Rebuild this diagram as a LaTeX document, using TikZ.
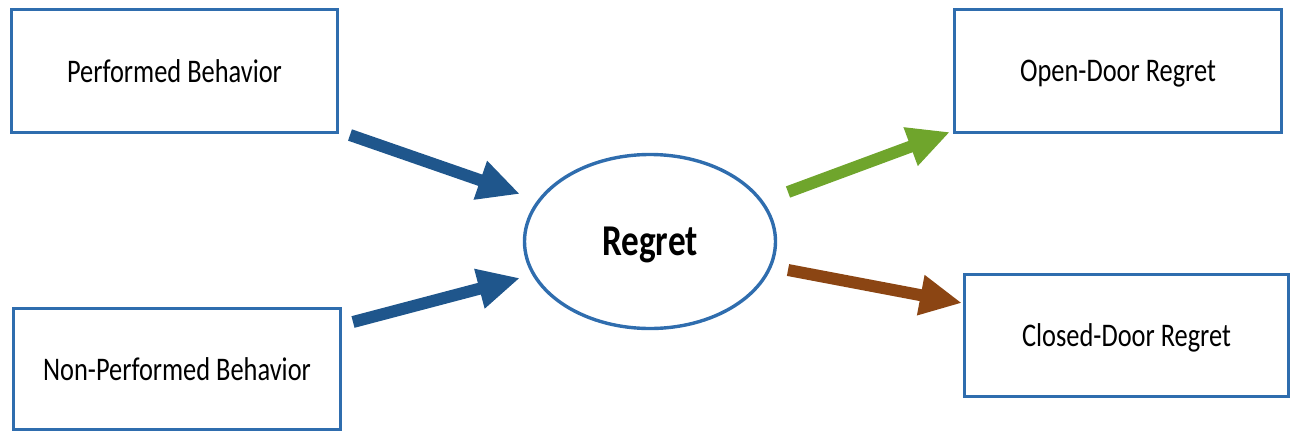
\documentclass[tikz,border=0pt]{standalone}
\usepackage{fontspec}
\usetikzlibrary{arrows.meta,shapes.geometric}
\newfontfamily\labelfont[FakeStretch=0.8]{Carlito}
\definecolor{boxblue}{HTML}{2F6DAE}
\definecolor{arrowblue}{HTML}{1F568C}
\definecolor{arrowgreen}{HTML}{6FA52C}
\definecolor{arrowbrown}{HTML}{8B4513}
\tikzset{
  box/.style={draw=boxblue, line width=3.6pt, rectangle, inner sep=0pt,
    text depth=0pt,
    font=\labelfont\fontsize{33}{39}\selectfont, text=black},
  hub/.style={draw=boxblue, line width=3.4pt, ellipse, inner sep=0pt,
    minimum width=251pt, minimum height=174pt, text depth=0pt,
    font=\labelfont\bfseries\fontsize{44}{50}\selectfont, text=black},
  flow/.style={line width=12pt, line cap=butt,
    -{Triangle[length=42pt,width=38pt]}},
}
\begin{document}
\begin{tikzpicture}[x=1pt,y=-1pt]
  \useasboundingbox (0,0) rectangle (1291,432);
  % input boxes
  \node[box, minimum width=326pt, minimum height=123pt] (perf) at (174.5,71) {Performed Behavior};
  \node[box, minimum width=327pt, minimum height=121pt] (nonperf) at (177,369) {Non-Performed Behavior};
  % central concept
  \node[hub] (regret) at (650,241.5) {Regret};
  % outcome boxes
  \node[box, minimum width=327pt, minimum height=123pt] (open) at (1118,71) {Open-Door Regret};
  \node[box, minimum width=324pt, minimum height=122pt] (closed) at (1126.5,335.5) {Closed-Door Regret};
  % arrow end points
  \coordinate (a1s) at (350,135);  \coordinate (a1e) at (520,194);
  \coordinate (a2s) at (353,322);  \coordinate (a2e) at (520,278);
  \coordinate (a3s) at (788,192);  \coordinate (a3e) at (950,132);
  \coordinate (a4s) at (788,270);  \coordinate (a4e) at (962,303);
  % arrows
  \draw[flow, arrowblue] (a1s) -- (a1e);
  \draw[flow, arrowblue] (a2s) -- (a2e);
  \draw[flow, arrowgreen] (a3s) -- (a3e);
  \draw[flow, arrowbrown] (a4s) -- (a4e);
\end{tikzpicture}
\end{document}
